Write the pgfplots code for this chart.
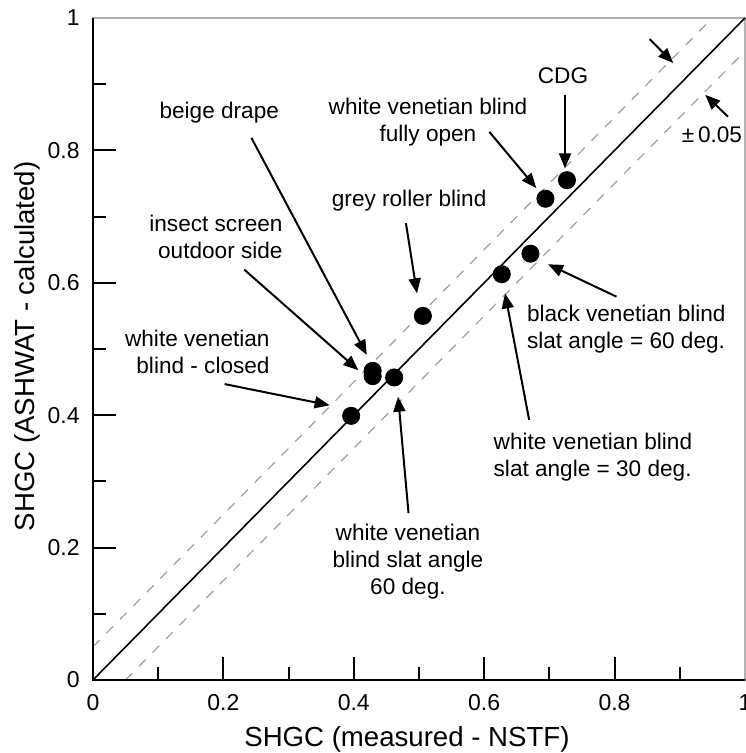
\documentclass[border=0pt]{standalone}
\usepackage{fontspec}
\setmainfont{Liberation Sans}
\usepackage{pgfplots}
\pgfplotsset{compat=1.18}
\usetikzlibrary{arrows.meta}

\begin{document}
\begin{tikzpicture}[
  note/.style={font=\fontsize{11.3}{13.5}\selectfont, inner sep=0pt},
  pt/.style={-{Triangle[length=7.5pt,width=6pt]}, line width=1pt},
]
\begin{axis}[
  scale only axis, width=326pt, height=331pt,
  xmin=0, xmax=1, ymin=0, ymax=1,
  axis line style={gray!60, line width=0.8pt},
  xtick={0,0.2,0.4,0.6,0.8,1}, ytick={0,0.2,0.4,0.6,0.8,1},
  minor tick num=1,
  tick align=inside, xtick pos=bottom, ytick pos=left,
  major tick length=11.5pt, minor tick length=6.5pt,
  every tick/.style={black, line width=1pt},
  ticklabel style={font=\fontsize{11.5}{13}\selectfont},
  /pgf/number format/assume math mode=true,
  xticklabel style={anchor=base, yshift=-15.5pt},
  yticklabel style={anchor=east, inner sep=0pt, xshift=-6.5pt},
  xlabel={SHGC (measured - NSTF)},
  xlabel style={at={(axis description cs:0.4816,0)}, anchor=base, yshift=-33.3pt,
    inner sep=0pt, font=\fontsize{13.8}{16}\selectfont},
  ylabel={SHGC (ASHWAT - calculated)},
  ylabel style={at={(axis description cs:-0.0890,0.504)}, anchor=base,
    inner sep=0pt, font=\fontsize{13.8}{16}\selectfont},
  clip=false,
]
% reference lines
\addplot[gray!75, line width=0.6pt, dash pattern=on 4.8pt off 4.8pt] coordinates {(0,0.05)(0.95,1)};
\addplot[gray!75, line width=0.6pt, dash pattern=on 4.8pt off 4.8pt] coordinates {(0.05,0)(1,0.95)};
\addplot[black, line width=0.8pt] coordinates {(0,0)(1,1)};

% measured vs calculated
\addplot[only marks, mark=*, mark size=4.3pt, black] coordinates {
  (0.396,0.399)(0.429,0.467)(0.429,0.459)(0.462,0.457)(0.506,0.550)
  (0.627,0.613)(0.671,0.644)(0.694,0.727)(0.727,0.755)
};

\draw[black, line width=1.2pt] (rel axis cs:0,1) -- (rel axis cs:0,0) -- (rel axis cs:1,0);

% labels
\node[note] at (axis cs:0.1937,0.8573) {beige drape};
\draw[pt] (axis cs:0.243,0.819) -- (axis cs:0.420,0.491);

\node[note, align=right, anchor=east] at (axis cs:0.2914,0.670) {insect screen\\outdoor side};
\draw[pt] (axis cs:0.232,0.620) -- (axis cs:0.407,0.468);

\node[note, align=right, anchor=east] at (axis cs:0.2715,0.4950) {white venetian\\blind - closed};
\draw[pt] (axis cs:0.202,0.447) -- (axis cs:0.363,0.415);

\node[note] at (axis cs:0.4850,0.7239) {grey roller blind};
\draw[pt] (axis cs:0.480,0.690) -- (axis cs:0.497,0.584);

\node[note, align=center] at (axis cs:0.5138,0.8429) {white venetian blind\\fully open};
\draw[pt] (axis cs:0.608,0.828) -- (axis cs:0.680,0.743);

\node[note] at (axis cs:0.7209,0.9124) {CDG};
\draw[pt] (axis cs:0.724,0.884) -- (axis cs:0.724,0.773);

\node[note] at (axis cs:0.9494,0.8233) {±\,0.05};
\draw[pt] (axis cs:0.854,0.968) -- (axis cs:0.890,0.932);
\draw[pt] (axis cs:0.974,0.851) -- (axis cs:0.939,0.884);

\node[note, align=left, anchor=west] at (axis cs:0.6652,0.5299) {black venetian blind\\slat angle = 60 deg.};
\draw[pt] (axis cs:0.803,0.579) -- (axis cs:0.698,0.628);

\node[note, align=left, anchor=west] at (axis cs:0.6140,0.3361) {white venetian blind\\slat angle = 30 deg.};
\draw[pt] (axis cs:0.669,0.393) -- (axis cs:0.632,0.584);

\node[note, align=center] at (axis cs:0.4831,0.1787) {white venetian\\blind slat angle\\60 deg.};
\draw[pt] (axis cs:0.484,0.252) -- (axis cs:0.468,0.428);

\coordinate (bbA) at (axis cs:-0.1426,-0.1103);
\coordinate (bbB) at (axis cs:1.0015,1.0272);
\end{axis}
\pgfresetboundingbox
\path[use as bounding box] (bbA) rectangle (bbB);
\end{tikzpicture}
\end{document}
